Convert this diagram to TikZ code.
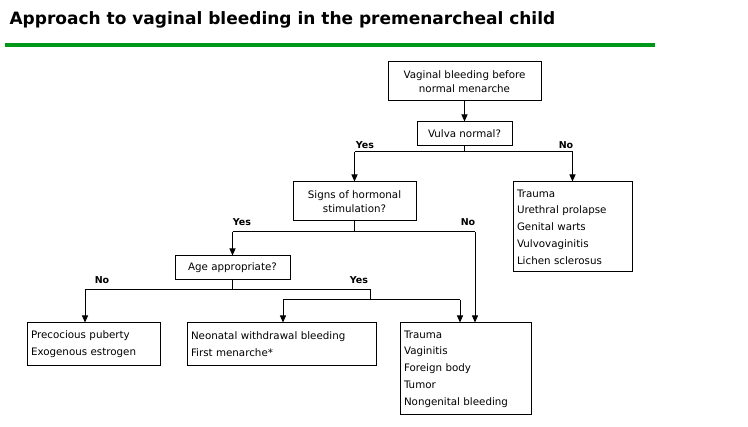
\documentclass[tikz,border=0pt]{standalone}
\usepackage{fontspec}
\setmainfont{DejaVu Sans}
\usetikzlibrary{arrows.meta}
\begin{document}
\begin{tikzpicture}[x=1pt,y=-1pt,
  box/.style={draw,line width=1pt,inner sep=0pt,font=\fontsize{10.3}{16.8}\selectfont,align=left},
  cbox/.style={box,align=center,font=\fontsize{10.3}{14}\selectfont},
  arr/.style={line width=1pt,-{Triangle[length=7pt,width=6pt]}},
  ln/.style={line width=1pt},
  lab/.style={font=\fontsize{9.5}{10}\selectfont\bfseries}]
\useasboundingbox (0,0) rectangle (748,427);
\node[anchor=west,font=\fontsize{17}{19}\selectfont\bfseries] (title) at (6,20) {Approach to vaginal bleeding in the premenarcheal child};
\fill[green!55!black!90!cyan] (5,43) rectangle (655,47);
\node[cbox,minimum width=153,minimum height=39] (A) at (464.5,81.5) {Vaginal bleeding before\\normal menarche};
\node[cbox,minimum width=95,minimum height=24] (B) at (464.5,134) {Vulva normal?};
\node[cbox,minimum width=123,minimum height=39] (C) at (354.5,201.5) {Signs of hormonal\\stimulation?};
\node[box,minimum width=119,minimum height=90,text width=111] (D) at (572.5,227) {Trauma\\Urethral prolapse\\Genital warts\\Vulvovaginitis\\Lichen sclerosus};
\node[cbox,minimum width=115,minimum height=24] (E) at (232.5,268) {Age appropriate?};
\node[box,minimum width=133,minimum height=43,text width=125] (F) at (93.5,344.5) {Precocious puberty\\Exogenous estrogen};
\node[box,minimum width=189,minimum height=43,text width=181] (G) at (281.5,344.5) {Neonatal withdrawal bleeding\\First menarche*};
\node[box,minimum width=131,minimum height=92,text width=123] (H) at (465.5,369) {Trauma\\Vaginitis\\Foreign body\\Tumor\\Nongenital bleeding};
\coordinate (b1) at (464.5,152);
\coordinate (bl) at (354.5,152);
\coordinate (br) at (572.5,152);
\coordinate (c1) at (354.5,232);
\coordinate (cl) at (232.5,232);
\coordinate (cr) at (475,232);
\coordinate (e1) at (232.5,290);
\coordinate (el) at (85,290);
\coordinate (er) at (370,290);
\coordinate (e2) at (370,300);
\coordinate (gl) at (283,300);
\coordinate (gr) at (460,300);
\draw[arr] (A) -- (B);
\draw[ln] (B) -- (b1);
\draw[ln] (bl) -- (br);
\draw[arr] (bl) -- (C);
\draw[arr] (br) -- (D);
\draw[ln] (C) -- (c1);
\draw[ln] (cl) -- (cr);
\draw[arr] (cl) -- (E);
\draw[arr] (cr) -- (cr|-H.north);
\draw[ln] (E) -- (e1);
\draw[ln] (el) -- (er) -- (e2);
\draw[ln] (gl) -- (gr);
\draw[arr] (el) -- (el|-F.north);
\draw[arr] (gl) -- (gl|-G.north);
\draw[arr] (gr) -- (gr|-H.north);
\node[lab] (y1) at (365,145) {Yes};
\node[lab] (n1) at (566,145) {No};
\node[lab] (y2) at (242,222) {Yes};
\node[lab] (n2) at (468,222) {No};
\node[lab] (n3) at (102,280) {No};
\node[lab] (y3) at (359,280) {Yes};
\end{tikzpicture}
\end{document}
